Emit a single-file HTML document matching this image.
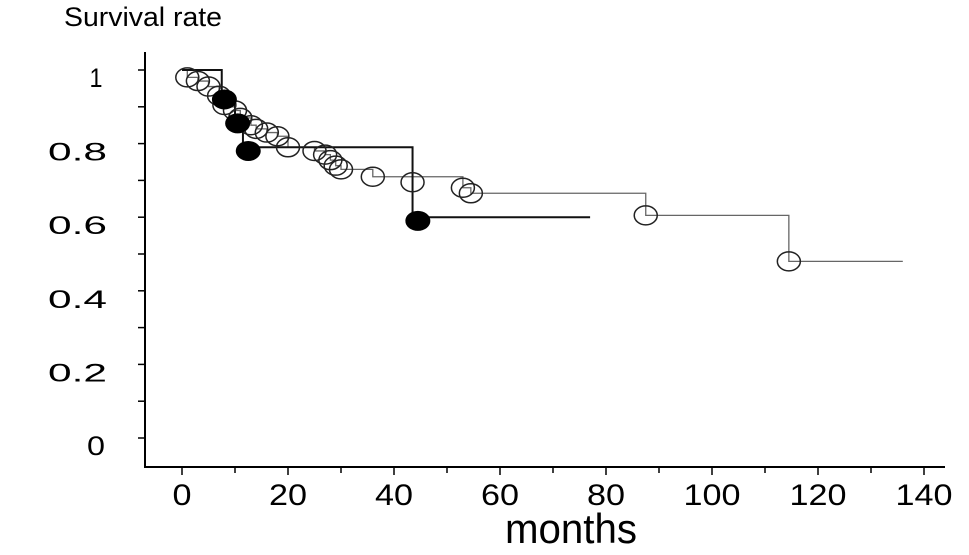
<!DOCTYPE html>
<html><head><meta charset="utf-8"><style>
body{margin:0;background:#fff;}
svg{display:block;font-family:"Liberation Sans",sans-serif;}
</style></head><body>
<svg id="chart" width="969" height="555">
<text x="64" y="26" font-size="27" textLength="158" lengthAdjust="spacingAndGlyphs">Survival rate</text>
<text x="505" y="543" font-size="42" textLength="132" lengthAdjust="spacingAndGlyphs">months</text>
<g id="axes"></g><g id="marks"></g>
</svg>
<script>
const xTicks=[0,20,40,60,80,100,120,140];
const yTicks=[0,0.2,0.4,0.6,0.8,1];
const yTickLabels=["0","0.2","0.4","0.6","0.8","1"];
const grayStepT=[0,1,3,5,7,8,10,11,13,14,16,18,20,25,27,28,29,30,36,53,54.5,87.5,114.5,136];
const grayStepS=[1,0.98,0.97,0.955,0.93,0.9,0.89,0.87,0.85,0.84,0.83,0.82,0.79,0.78,0.77,0.755,0.74,0.73,0.71,0.68,0.665,0.605,0.48,0.48];
const openT=[1,3,5,7,8,10,11,13,14,16,18,20,25,27,28,29,30,36,43.5,53,54.5,87.5,114.5];
const openS=[0.98,0.97,0.955,0.93,0.905,0.89,0.87,0.85,0.84,0.83,0.82,0.79,0.78,0.77,0.755,0.74,0.73,0.71,0.695,0.68,0.665,0.605,0.48];
const blackStepT=[0,7.5,10,11.5,43.5,77];
const blackStepS=[1,0.92,0.86,0.79,0.6,0.6];
const filledT=[8,10.5,12.5,44.5];
const filledS=[0.92,0.855,0.78,0.59];
const X=t=>182+t*5.3;
const Y=s=>438-s*368;
const NS="http://www.w3.org/2000/svg";
const axes=document.getElementById('axes'),marks=document.getElementById('marks');
function mk(tag,attrs,parent){const e=document.createElementNS(NS,tag);for(const k in attrs)e.setAttribute(k,attrs[k]);parent.appendChild(e);return e;}
let e=mk('line',{x1:145,y1:52,x2:145,y2:468,stroke:'#000','stroke-width':2},axes);


e=mk('line',{x1:144,y1:467,x2:945,y2:467,stroke:'#000','stroke-width':2},axes);


for(let i=0;i<=10;i++){const v=i/10;mk('line',{x1:138,x2:145,y1:Y(v),y2:Y(v),stroke:'#000','stroke-width':1.5},axes);}
yTicks.forEach((v,i)=>{const lab=yTickLabels[i];let t;
if(lab.length>1){t=mk('text',{x:48,y:Y(v)+17,'font-size':25,textLength:59,lengthAdjust:'spacingAndGlyphs'},axes);}
else{t=mk('text',{x:96,y:Y(v)+17,'font-size':27,'text-anchor':'middle',textLength:lab==='0'?18:13,lengthAdjust:'spacingAndGlyphs'},axes);}
t.textContent=lab;

});
for(let m=0;m<=140;m+=10){mk('line',{x1:X(m),x2:X(m),y1:467,y2:m%20?473:475,stroke:'#000','stroke-width':1.5},axes);}
xTicks.forEach(v=>{const s=String(v);const w=s.length*19;const t=mk('text',{x:X(v)-w/2,y:505,'font-size':30,textLength:w,lengthAdjust:'spacingAndGlyphs'},axes);t.textContent=s;

});
function stepPath(T,S){let d=`M${X(T[0])},${Y(S[0])}`;for(let i=1;i<T.length;i++){d+=` H${X(T[i])} V${Y(S[i])}`;}return d;}
e=mk('path',{d:stepPath(grayStepT,grayStepS),fill:'none',stroke:'#666','stroke-width':1.3},marks);


e=mk('path',{d:stepPath(blackStepT,blackStepS),fill:'none',stroke:'#111','stroke-width':2},marks);


openT.forEach((t,i)=>{const c=mk('ellipse',{cx:X(t),cy:Y(openS[i]),rx:11.5,ry:9.5,fill:'none',stroke:'#222','stroke-width':1.5},marks);

});
filledT.forEach((t,i)=>{const c=mk('ellipse',{cx:X(t),cy:Y(filledS[i]),rx:12.5,ry:10,fill:'#000'},marks);

});
</script>
</body></html>
